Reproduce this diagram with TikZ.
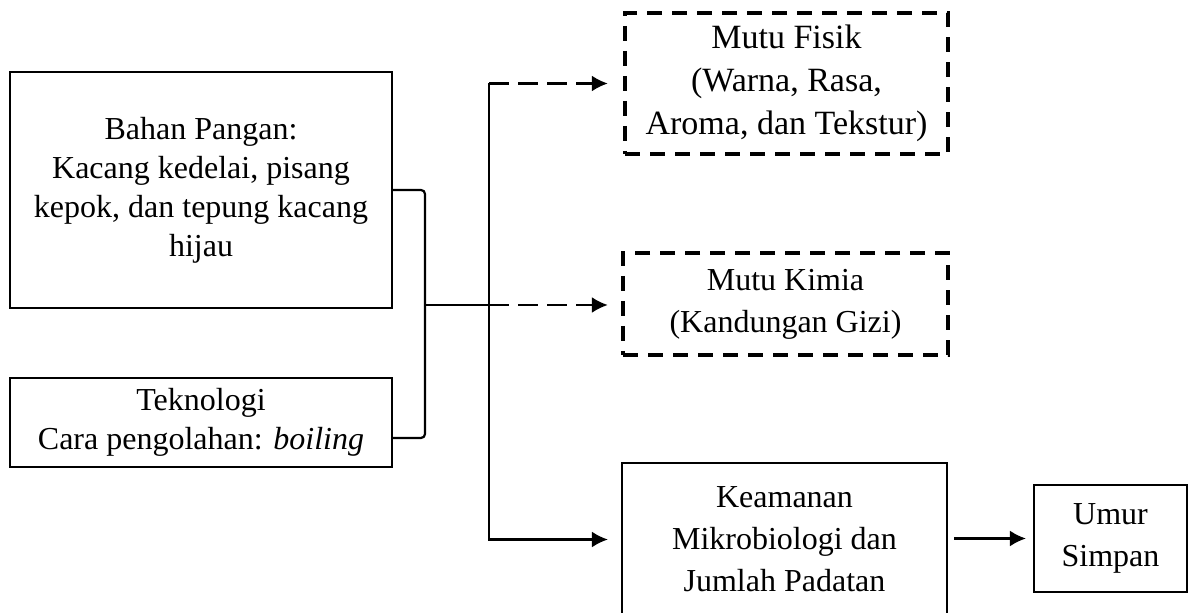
\documentclass[tikz,border=0pt]{standalone}
\usepackage{fontspec}
\setmainfont{Liberation Serif}
\usetikzlibrary{arrows.meta}

\tikzset{
  box/.style={draw, line width=1.1pt, align=center, inner sep=0pt,
    font=\fontsize{16}{19.5}\selectfont},
  tall/.style={font=\fontsize{16}{21}\selectfont},
  dbox/.style={box, tall, line width=2.2pt, dash pattern=on 7.5pt off 5pt},
  link/.style={line width=1.1pt},
  dlink/.style={link, dash pattern=on 10pt off 4.5pt}
}

\begin{document}
\begin{tikzpicture}[x=0.5pt, y=-0.5pt, >={Latex[length=8pt,width=8pt]}]
    \useasboundingbox (0,0) rectangle (1189,613);
    \node[box, minimum width=191pt, minimum height=118pt] (bahan) at (201,190)
        {Bahan Pangan:\\Kacang kedelai, pisang\\kepok, dan tepung kacang\\hijau};
    \node[box, minimum width=191pt, minimum height=44.5pt] (tekno) at (201,422.5)
        {Teknologi\\Cara pengolahan: \textit{boiling}};
    \node[dbox, font=\fontsize{17}{21.5}\selectfont, minimum width=161.5pt, minimum height=70.5pt] (fisik) at (786.5,83.5)
        {Mutu Fisik\\(Warna, Rasa,\\Aroma, dan Tekstur)};
    \node[dbox, minimum width=162.5pt, minimum height=51pt] (kimia) at (785.5,304)
        {Mutu Kimia\\(Kandungan Gizi)};
    \node[box, tall, minimum width=162.5pt, minimum height=76.5pt] (kea) at (784.5,539.5)
        {Keamanan\\Mikrobiologi dan\\Jumlah Padatan};
    \node[box, tall, minimum width=76.5pt, minimum height=53.5pt] (umur) at (1110.5,538.5)
        {Umur\\Simpan};
    \coordinate (jbot) at (425,438);
    \coordinate (split) at (489,305);

    \draw[link, rounded corners=2pt] (bahan.east) -| (jbot) -- (tekno.east |- jbot);
    \draw[link] (jbot |- split) -- (split);
    \draw[link] (split) -- (split |- fisik.west);
    \draw[dlink, ->, shorten >=7.5pt] (split |- fisik.west) -- (fisik.west);
    \draw[dlink, ->, shorten >=6.5pt] (split) -- (kimia.west |- split);
    \draw[link, ->, shorten >=6.5pt] (split) |- (kea.west);
    \draw[link, ->, shorten <=3pt, shorten >=3.5pt] (kea.east |- umur.west) -- (umur.west);
\end{tikzpicture}
\end{document}
